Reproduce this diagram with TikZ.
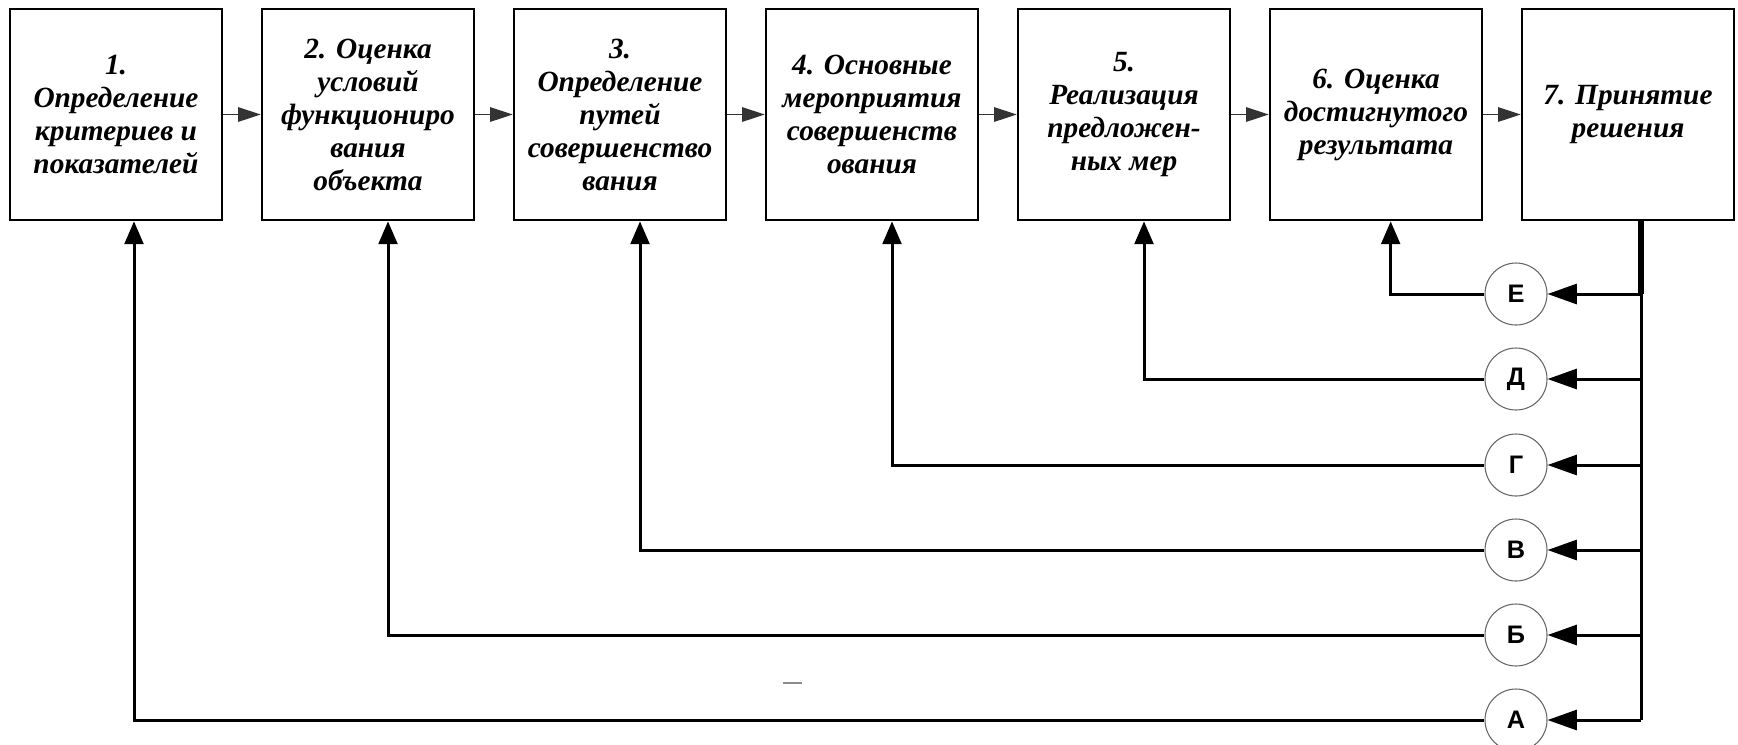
\documentclass[tikz,border=0pt]{standalone}
\usepackage{fontspec}
\setmainfont{Liberation Serif}
\newfontfamily\circfont{Liberation Sans}
\usetikzlibrary{arrows.meta}

\tikzset{every picture/.style={line width=0.75pt}}
\tikzset{
  stage/.style={draw, line width=2pt, minimum width=159pt, minimum height=158.25pt,
    inner sep=0pt, align=center, font=\fontsize{22}{24.75}\selectfont\bfseries\itshape},
  letterc/.style={circle, draw=black!60, line width=0.8pt, minimum size=46.5pt,
    inner sep=0pt, font=\circfont\bfseries\fontsize{19}{19}\selectfont},
  fwd/.style={-{Triangle[length=17pt,width=11pt]}, line width=0.75pt, draw=black!80},
  back/.style={-{Triangle[length=17pt,width=14pt]}, line width=2.25pt},
  intoc/.style={-{Triangle[length=22pt,width=15pt]}, line width=2.25pt},
}

\begin{document}
\begin{tikzpicture}[x=0.75pt,y=0.75pt,yscale=-1,xscale=1]
\useasboundingbox (0,0) rectangle (1738,744);

% Stages
\node[stage] (b1) at (116,114.5) {1.\\Определение\\критериев и\\показателей};
\node[stage] (b2) at (368,114.5) {2. Оценка\\условий\\функциониро\\вания\\объекта};
\node[stage] (b3) at (620,114.5) {3.\\Определение\\путей\\совершенство\\вания};
\node[stage] (b4) at (872,114.5) {4. Основные\\мероприятия\\совершенств\\ования};
\node[stage] (b5) at (1124,114.5) {5.\\Реализация\\предложен-\\ных мер};
\node[stage] (b6) at (1376,114.5) {6. Оценка\\достигнутого\\результата};
\node[stage] (b7) at (1628,114.5) {7. Принятие\\решения};

% Decision circles
\node[letterc] (cE) at (1516,294) {Е};
\node[letterc] (cD) at (1516,379) {Д};
\node[letterc] (cG) at (1516,465) {Г};
\node[letterc] (cV) at (1516,550) {В};
\node[letterc] (cB) at (1516,635) {Б};
\node[letterc] (cA) at (1516,720) {А};

\coordinate (bus) at (1641,220);

% Forward chain
\draw[fwd] (b1) -- (b2);
\draw[fwd] (b2) -- (b3);
\draw[fwd] (b3) -- (b4);
\draw[fwd] (b4) -- (b5);
\draw[fwd] (b5) -- (b6);
\draw[fwd] (b6) -- (b7);

% Bus from stage 7
\draw[line width=5pt] (b7.south -| bus) -- (cE -| bus);
\draw[line width=2.25pt] (cE -| bus) -- (cA -| bus);
\draw[intoc] (cE -| bus) -- (cE.east);
\draw[intoc] (cD -| bus) -- (cD.east);
\draw[intoc] (cG -| bus) -- (cG.east);
\draw[intoc] (cV -| bus) -- (cV.east);
\draw[intoc] (cB -| bus) -- (cB.east);
\draw[intoc] (cA -| bus) -- (cA.east);

% Feedback lines
\draw[back] (cE.west) -| ([xshift=11pt]b6.south);
\draw[back] (cD.west) -| ([xshift=15pt]b5.south);
\draw[back] (cG.west) -| ([xshift=15pt]b4.south);
\draw[back] (cV.west) -| ([xshift=15pt]b3.south);
\draw[back] (cB.west) -| ([xshift=15pt]b2.south);
\draw[back] (cA.west) -| ([xshift=13.5pt]b1.south);

% stray mark
\draw[black!45, line width=1pt] (783,683) -- (802,683);

\end{tikzpicture}
\end{document}
